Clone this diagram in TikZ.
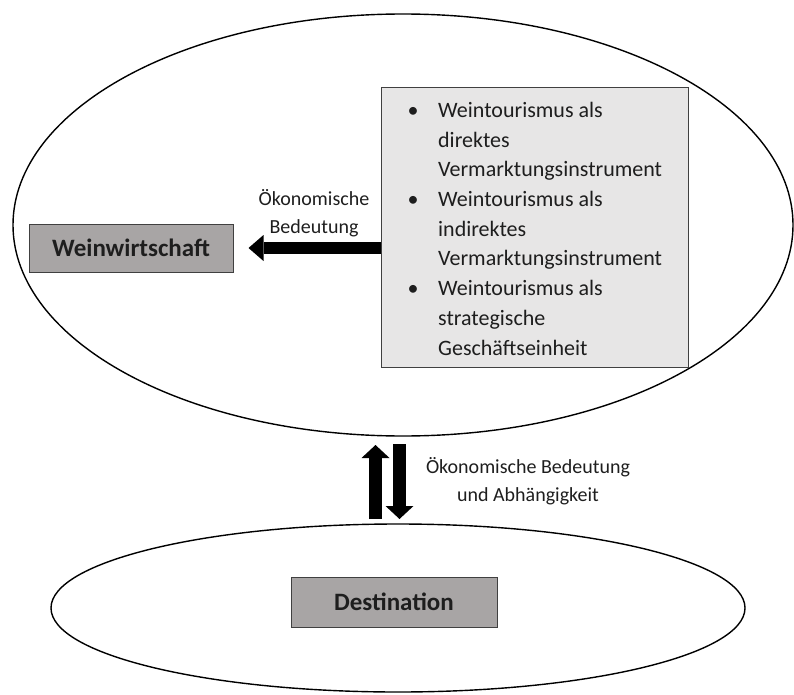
\documentclass[tikz,border=0pt]{standalone}
\usepackage{fontspec}
\setmainfont{Carlito}
\usetikzlibrary{shapes.geometric, arrows.meta}
\definecolor{boxgray}{RGB}{168,165,165}
\definecolor{listgray}{RGB}{231,230,230}
\definecolor{edgegray}{RGB}{64,64,64}
\definecolor{txt}{RGB}{30,30,30}
\begin{document}
\begin{tikzpicture}[x=1pt, y=-1pt,
  oval/.style={draw=black, line width=1.4pt, ellipse, inner sep=0pt},
  graybox/.style={draw=edgegray, fill=boxgray, line width=1pt, inner sep=0pt,
    font=\fontsize{25}{30}\selectfont\bfseries, text=txt},
  listbox/.style={draw=edgegray, fill=listgray, line width=1pt, inner sep=0pt},
  lbl/.style={font=\fontsize{20}{27.5}\selectfont, align=center, inner sep=0pt, text=txt},
  bigarrow/.style={line width=12pt, -{Triangle[length=15pt, width=26pt, line width=0pt]}},
  vertarrow/.style={line width=13pt, -{Triangle[length=13pt, width=28pt, line width=0pt]}},
]
\useasboundingbox (0,0) rectangle (794,695);
% ellipses
\node[oval, minimum width=780pt, minimum height=422pt] (wineoval) at (403,225) {};
\node[oval, minimum width=694pt, minimum height=168pt] (destoval) at (398,608) {};
% boxes
\node[graybox, minimum width=204pt, minimum height=48pt] (ww) at (131,248) {Weinwirtschaft};
\node[graybox, minimum width=206pt, minimum height=50pt] (dst) at (394,602) {Destination};
\node[listbox, minimum width=307pt, minimum height=280pt, anchor=north west] (box) at (381,87) {};
\node[anchor=base west, inner sep=0pt, font=\fontsize{22}{29.7}\selectfont, text=txt] (items) at (407.5,117.5)
{\begin{tabular}[t]{@{}l@{\hspace{19.5pt}}l@{}}
\textbullet & Weintourismus als\\
 & direktes\\
 & Vermarktungsinstrument\\
\textbullet & Weintourismus als\\
 & indirektes\\
 & Vermarktungsinstrument\\
\textbullet & Weintourismus als\\
 & strategische\\
 & Geschäftseinheit
\end{tabular}};
% labels
\node[lbl] (l1) at (314,213) {Ökonomische\\Bedeutung};
\node[lbl] (l2) at (528,481) {Ökonomische Bedeutung\\und Abhängigkeit};
% arrows
\draw[bigarrow] (box.west |- ww.east) -- ([xshift=15pt]ww.east);
\coordinate (ubot) at ([shift={(-22.5,-4.3)}]destoval.north);
\coordinate (utop) at ([shift={(-27.5,8.3)}]wineoval.south);
\coordinate (dtop) at ([shift={(-3.5,7.3)}]wineoval.south);
\coordinate (dbot) at ([shift={(1.5,-4.3)}]destoval.north);
\draw[vertarrow] (ubot) -- (utop);
\draw[vertarrow] (dtop) -- (dbot);
\end{tikzpicture}
\end{document}
